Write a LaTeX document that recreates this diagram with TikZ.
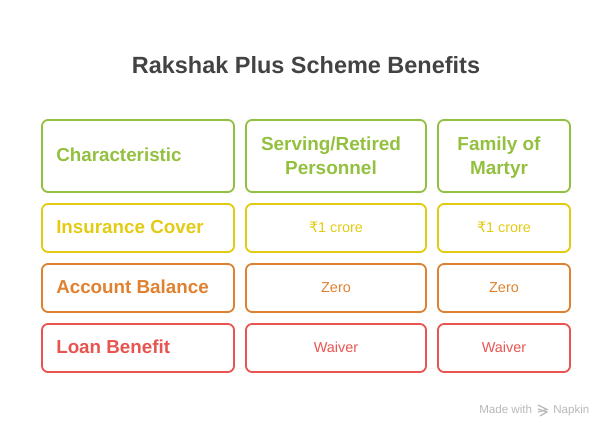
\documentclass[tikz,border=0pt]{standalone}
\usepackage{fontspec}
\setmainfont{Liberation Sans}
\newfontfamily\rupeefont{DejaVu Sans}
\definecolor{titlegray}{HTML}{434343}
\definecolor{headgreen}{HTML}{93C03F}
\definecolor{covyellow}{HTML}{E3CB14}
\definecolor{balorange}{HTML}{E0812F}
\definecolor{loanred}{HTML}{E8544F}
\definecolor{markgray}{HTML}{B8B8B8}
\tikzset{
	cellbox/.style={draw=#1,text=#1,line width=1.35pt,rounded corners=4.5pt,align=center,inner sep=0pt},
	firstcol/.style={cellbox=#1,minimum width=144pt},
	headcell/.style={cellbox=headgreen,minimum height=54pt},
	headlabel/.style={text=headgreen,align=center,inner sep=0pt,text depth=0pt,font=\fontsize{14.2pt}{18pt}\selectfont\bfseries},
	datacell/.style={cellbox=#1,minimum height=36pt,text depth=1pt,font=\fontsize{10.8pt}{13pt}\selectfont},
	keylabel/.style={text=#1,anchor=west,inner sep=0pt,font=\fontsize{14.1pt}{18pt}\selectfont\bfseries},
	marktext/.style={text=markgray,anchor=base west,inner sep=0pt,font=\fontsize{8.7pt}{10pt}\selectfont},
}
\begin{document}
\begin{tikzpicture}[x=0.75pt,y=-0.75pt]
	\useasboundingbox (0,0) rectangle (612,438);
	\node[text=titlegray,font=\fontsize{17.6pt}{22pt}\selectfont\bfseries] (title) at (306,65) {Rakshak Plus Scheme Benefits};
	% header row
	\node[firstcol=headgreen,minimum height=54pt] (charbox) at (138,156) {};
	\node[keylabel=headgreen] (charlabel) at (56,155) {Characteristic};
	\node[headcell,minimum width=135pt] (servhead) at (336,156) {};
	\node[headlabel] (servlabel) at (331,156) {Serving/Retired\\Personnel};
	\node[headcell,minimum width=99pt] (famhead) at (504,156) {};
	\node[headlabel] (famlabel) at (499,156) {Family of\\Martyr};
	% insurance row
	\node[firstcol=covyellow,minimum height=36pt] (covbox) at (138,228) {};
	\node[keylabel=covyellow] (covlabel) at (56,227) {Insurance Cover};
	\node[datacell=covyellow,minimum width=135pt] (covserv) at (336,228) {{\rupeefont ₹}1 crore};
	\node[datacell=covyellow,minimum width=99pt] (covfam) at (504,228) {{\rupeefont ₹}1 crore};
	% balance row
	\node[firstcol=balorange,minimum height=36pt] (balbox) at (138,288) {};
	\node[keylabel=balorange] (ballabel) at (56,287) {Account Balance};
	\node[datacell=balorange,minimum width=135pt] (balserv) at (336,288) {Zero};
	\node[datacell=balorange,minimum width=99pt] (balfam) at (504,288) {Zero};
	% loan row
	\node[firstcol=loanred,minimum height=36pt] (loanbox) at (138,348) {};
	\node[keylabel=loanred] (loanlabel) at (56,347) {Loan Benefit};
	\node[datacell=loanred,minimum width=135pt] (loanserv) at (336,348) {Waiver};
	\node[datacell=loanred,minimum width=99pt] (loanfam) at (504,348) {Waiver};
	% watermark
	\node[marktext] (madewith) at (479,414) {Made with};
	\node[marktext] (napkin) at (553,414) {Napkin};
	\draw[markgray,line width=0.9pt] (538,405) -- (547,409.5) -- (538,412);
	\draw[markgray,line width=0.9pt] (538,409) -- (547,412) -- (540,416);
\end{tikzpicture}
\end{document}
